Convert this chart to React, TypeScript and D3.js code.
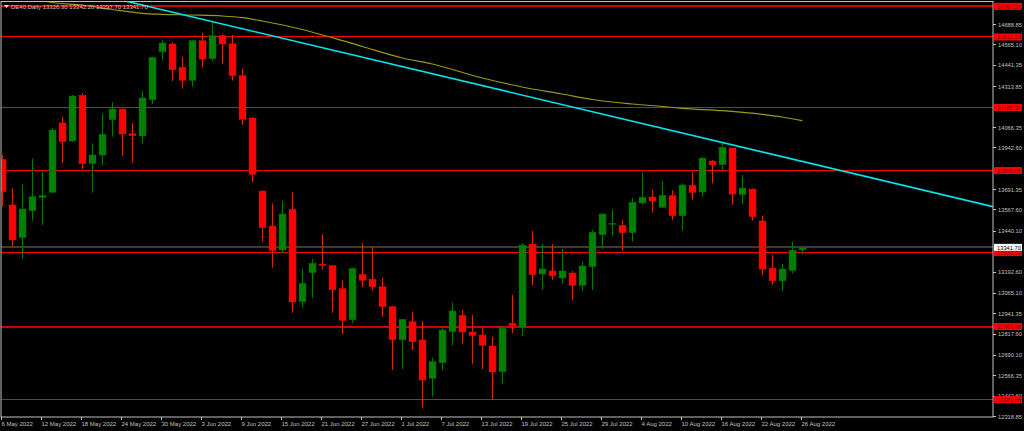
import React, { useEffect } from "react";
import * as d3 from "d3";

const W = 1024;
const H = 431;

// OHLC per daily bar (index 0 = 6 May 2022, weekdays through 26 Aug 2022)
const opens = [13873.5,13597.5,13400,13563.1,13644,13674.2,14092.8,13984.1,14260.1,13847,13899.5,14112.7,14177.3,14028.2,14014.3,14233.5,14523.4,14569.9,14429.2,14350.7,14590,14481.2,14620.1,14571.8,14378.5,14123,13682.1,13470.7,13325.7,13571.5,13013.4,13188.6,13239.3,13230.9,13092,12904.7,13178.9,13148.7,13104,12983.2,12783.9,12892.6,12782.1,12550.8,12645,12832.2,12931.3,12830.4,12812.3,12745.9,12590.6,12883,12856.4,13361.9,13180.7,13198.9,13156.6,13186.8,13112.5,13224.8,13418.1,13480.9,13474.9,13430.2,13609.6,13645.8,13583.6,13653.7,13532.9,13716.5,13676,13863.3,13840.9,13941.8,13659.7,13694.1,13500.9,13215.2,13140.3,13203.1,13326.3];
const highs = [13899.5,13698.4,13724.3,13877.2,13802.9,14064.4,14129,14261.9,14274,13970.2,14149,14217.8,14180,14092.8,14286.1,14493.2,14598.3,14580.2,14491.4,14595,14636.4,14704.6,14630.3,14624.3,14418.9,14129,13685,13607.8,13621.7,13674.2,13215.2,13271.3,13420.5,13232,13142.7,13218.8,13366.2,13342,13158.4,12989.2,12910,12951.2,12896.9,12675.2,12856.4,13007.4,12963.3,12933.1,12856.4,12802,12862.4,13053.9,13366.2,13440.5,13361.9,13361.9,13331.7,13198.9,13255,13446.5,13547.4,13567.3,13506.9,13639.8,13792.6,13689.9,13742.5,13686.3,13728.6,13795,13885,13869.3,13970.2,13943.6,13778.7,13698.4,13531.1,13295.5,13241.1,13374,13342.2];
const lows = [13587.2,13345.6,13271.3,13502.7,13476.7,13668.2,13853,13980,13814.9,13671.8,13839.1,14010,13893.5,13853,13970.2,14209.4,14473.3,14346.5,14300,14312,14429.2,14467.3,14449.1,14348.3,14080.7,13734.6,13375.8,13218.8,13305.8,12947,12977.2,13037.6,13209.1,12947,12816.5,12883,13102.2,13084.1,12922.8,12600.9,12606.9,12721.7,12369.6,12439.6,12600.9,12751.9,12757.9,12637.1,12606.9,12419.7,12520.6,12822.6,12810.5,13112.5,13084.1,13142.7,13124.6,13023.7,13078.1,13084.1,13331.7,13412.1,13321.5,13375.8,13599.3,13551,13577.6,13505.1,13444.7,13625.9,13647.6,13728.6,13808.9,13599.3,13603.5,13502.7,13174.7,13116.1,13078.1,13185,13297.7];
const closes = [13677.8,13386.1,13573.3,13647.6,13653.7,14050.5,13979.8,14255.9,13847,13899.5,14024.5,14177.3,14026.3,14016.1,14243.8,14489.6,14576,14414.7,14350.7,14590,14479.3,14620.1,14569.9,14378.5,14115.1,13782.9,13460.4,13321.5,13543.1,13011.6,13124.6,13245.4,13230.9,13085.9,12901.1,13215.2,13142.7,13104,12983.2,12783.9,12907.1,12771.8,12540.5,12651,12842.5,12957.3,12830.4,12808.1,12750.1,12588.8,12852.8,12868.5,13355.9,13176.5,13210.9,13170.5,13198.9,13112.5,13229.1,13432.6,13543.1,13487,13430.2,13613.8,13644,13621.7,13656.1,13532.9,13718.3,13674.2,13881.4,13840.9,13946,13663.9,13700.2,13526.8,13210.9,13140.3,13210.9,13323.9,13341.7];

// Moving average line, read at selected bar indexes
const maBars = [3,5,8,11,14,16,19,22,24,26,30,33,36,40,43,48,52,56,59,63,66,68,72,76,78,80];
const maValues = [14847.8,14820.6,14805.5,14778.3,14755.4,14749.3,14745.1,14739.1,14728.8,14708.9,14657.5,14608,14554.8,14485.4,14449.1,14364.6,14310.2,14268,14234.7,14207.5,14192.4,14181.6,14167.1,14145.3,14129,14106.7];

// Trendline anchors (bar index, price)
const trendBars = [21, 72];
const trendPrices = [14705, 13975];

// Horizontal levels
const levels = [14797.22, 14612.16, 14186.39, 13805.65, 13310.33, 12863.48, 12421.88];
const levelWidths = [2, 1, 1, 1, 1, 2, 1];
const lastPrice = 13341.7;

const yTicks = [14688.85,14565.10,14441.35,14313.85,14066.35,13942.60,13691.35,13567.60,13440.10,13192.60,13065.10,12941.35,12817.60,12690.10,12566.35,12442.60,12318.85];

const dateLabels = ["6 May 2022","12 May 2022","18 May 2022","24 May 2022","30 May 2022","3 Jun 2022","9 Jun 2022","15 Jun 2022","21 Jun 2022","27 Jun 2022","1 Jul 2022","7 Jul 2022","13 Jul 2022","19 Jul 2022","25 Jul 2022","29 Jul 2022","4 Aug 2022","10 Aug 2022","16 Aug 2022","22 Aug 2022","26 Aug 2022"];
const dateLabelBars = [0,4,8,12,16,20,24,28,32,36,40,44,48,52,56,60,64,68,72,76,80];

const title = "DE40,Daily  13326.30 13342.20 13297.70 13341.70";

export default function App() {
  useEffect(() => {
    document.body.style.margin = "0";
    document.body.style.background = "#000";
  }, []);

  const plotL = 1, plotR = 993, plotT = 1.5, plotB = 417;
  const x = d3.scaleLinear().domain([0, 99.07]).range([2.3, 993]);
  const y = d3.scaleLinear().domain([12318.85, 14688.85]).range([416.7, 24.3]);
  const snap = (v: number, w: number) => (w % 2 === 1 ? Math.round(v - 0.5) + 0.5 : Math.round(v));

  const maLine = d3.line<number>()
    .x((_, i) => x(maBars[i]))
    .y((d) => y(d))
    .curve(d3.curveMonotoneX)(maValues) || "";

  const slope = (trendPrices[1] - trendPrices[0]) / (trendBars[1] - trendBars[0]);
  const tb0 = 0, tb1 = 99.07;
  const tp0 = trendPrices[0] + slope * (tb0 - trendBars[0]);
  const tp1 = trendPrices[0] + slope * (tb1 - trendBars[0]);

  const font = "'Liberation Sans', Arial, sans-serif";
  const fs = 6;
  const axisColor = "#c0c0c0";
  const bw = 7;

  return (
    <svg width={W} height={H} style={{ position: "absolute", left: 0, top: 0, display: "block", background: "#000" }}>
      <defs>
        <clipPath id="plot">
          <rect x={plotL} y={plotT} width={plotR - plotL} height={plotB - plotT} />
        </clipPath>
      </defs>
      <rect x={0} y={0} width={W} height={H} fill="#000" />
      <g clipPath="url(#plot)">
        {/* current price line */}
        <line x1={plotL} x2={plotR} y1={snap(y(lastPrice), 2)} y2={snap(y(lastPrice), 2)} stroke="#3a3a3a" strokeWidth={2} />
        {levels.map((lv, i) => (
          <line key={i} x1={plotL} x2={plotR} y1={snap(y(lv), levelWidths[i])} y2={snap(y(lv), levelWidths[i])} stroke={levelWidths[i] >= 2 ? "#d00000" : "#ff0000"} strokeWidth={levelWidths[i]} />
        ))}
        {/* candles */}
        {opens.map((o, i) => {
          const c = closes[i];
          const up = c >= o;
          const cx = Math.round(x(i)) + 0.5;
          const top = y(Math.max(o, c));
          const bot = y(Math.min(o, c));
          const bodyH = Math.max(1, bot - top);
          return (
            <g key={i}>
              <line x1={cx} x2={cx} y1={y(highs[i])} y2={y(lows[i])} stroke={up ? "#007a00" : "#d42a00"} strokeWidth={1} />
              <rect x={cx - bw / 2} y={top} width={bw} height={bodyH} fill={up ? "#008000" : "#ff0000"} stroke={up ? "#006a00" : "#e00000"} strokeWidth={0.5} />
            </g>
          );
        })}
        <path d={maLine} fill="none" stroke="#9a9a14" strokeWidth={1.2} />
        <line x1={x(tb0)} y1={y(tp0)} x2={x(tb1)} y2={y(tp1)} stroke="#00e5ee" strokeWidth={1.6} />
      </g>
      {/* frame */}
      <rect x={plotL} y={plotT} width={plotR - plotL} height={plotB - plotT} fill="none" stroke={axisColor} strokeWidth={1} />
      {/* title */}
      <g fontFamily={font} fontSize={fs} fill="#c8c8c8">
        <path d="M4,5 L9,5 L6.5,8 Z" fill="#e0e0e0" />
        <text x={11} y={8.5}>{title}</text>
      </g>
      {/* right axis */}
      <g fontFamily={font} fontSize={fs} fill={axisColor}>
        {yTicks.map((t, i) => (
          <g key={i}>
            <line x1={plotR} x2={plotR + 3} y1={snap(y(t), 1)} y2={snap(y(t), 1)} stroke={axisColor} />
            <text x={998} y={y(t) + 2.2} textLength={24} lengthAdjust="spacingAndGlyphs">{t.toFixed(2)}</text>
          </g>
        ))}
        {levels.map((lv, i) => (
          <g key={"l" + i}>
            <rect x={994} y={y(lv) - 3.5} width={28} height={7} fill="#ff0000" />
            <text x={997} y={y(lv) + 2.2} fill="#8a0000" textLength={24} lengthAdjust="spacingAndGlyphs">{lv.toFixed(2)}</text>
          </g>
        ))}
        <rect x={994} y={y(lastPrice) - 3.5} width={28} height={7} fill="#ffffff" />
        <text x={997} y={y(lastPrice) + 2.2} fill="#000" textLength={24} lengthAdjust="spacingAndGlyphs">{lastPrice.toFixed(2)}</text>
      </g>
      {/* bottom axis */}
      <g fontFamily={font} fontSize={fs} fill={axisColor}>
        {dateLabelBars.map((b, i) => (
          <g key={i}>
            <line x1={Math.round(x(b)) - 0.5} x2={Math.round(x(b)) - 0.5} y1={plotB} y2={plotB + 3} stroke={axisColor} />
            <text x={Math.round(x(b)) - 0.5} y={426}>{dateLabels[i]}</text>
          </g>
        ))}
      </g>
    </svg>
  );
}
